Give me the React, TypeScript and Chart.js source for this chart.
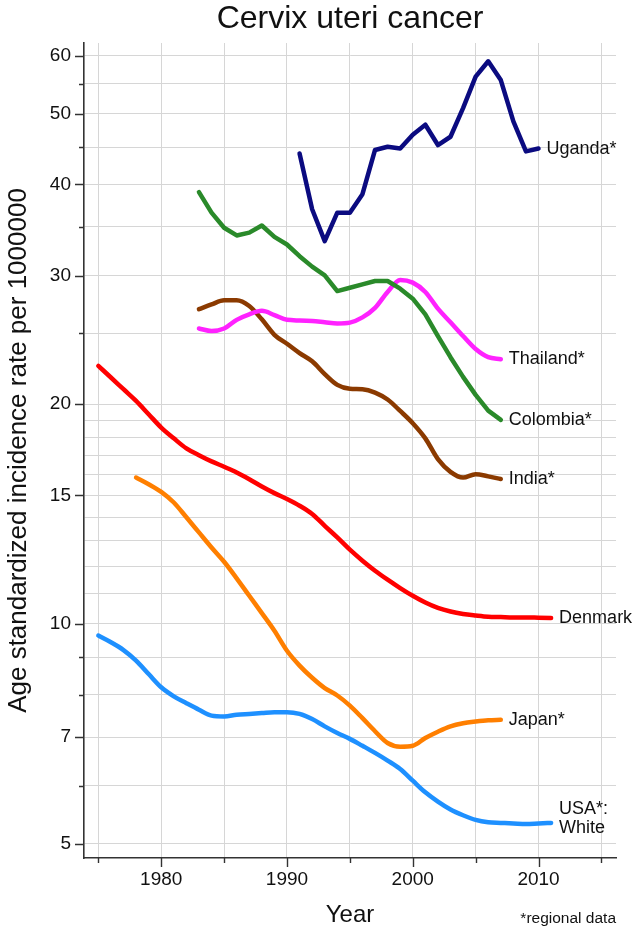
import React, { useEffect, useRef } from 'react';
import { Chart, registerables } from 'chart.js';

Chart.register(...registerables);

const TITLE = 'Cervix uteri cancer';
const X_TITLE = 'Year';
const Y_TITLE = 'Age standardized incidence rate per 1000000';
const FOOTNOTE = '*regional data';

const seriesNames = ['Uganda*', 'Colombia*', 'Thailand*', 'India*', 'Denmark', 'Japan*', 'USA*:\nWhite'];
const seriesColors = ['#0b0b80', '#2a8a2a', '#ff22ff', '#8b3a00', '#ff0000', '#ff7f00', '#1e90ff'];
const seriesStartYears = [1991, 1983, 1983, 1983, 1975, 1978, 1975];
const seriesSmooth = [false, false, true, true, true, true, true];

const uganda = [44.1, 37.0, 33.45, 36.6, 36.6, 38.8, 44.6, 45.05, 44.8, 46.8, 48.3, 45.3, 46.5, 50.9, 56.2, 59.0, 55.6, 48.8, 44.4, 44.8];
const colombia = [39.05, 36.6, 34.9, 34.06, 34.36, 35.15, 33.9, 33.1, 31.9, 30.87, 30.03, 28.58, 28.88, 29.19, 29.5, 29.5, 28.8, 27.9, 26.56, 24.8, 23.2, 21.8, 20.6, 19.6, 19.04];
const thailand = [25.4, 25.2, 25.4, 26.1, 26.56, 26.85, 26.5, 26.1, 26.05, 26.0, 25.9, 25.8, 25.87, 26.3, 27.1, 28.5, 29.6, 29.35, 28.5, 27.04, 25.9, 24.8, 23.8, 23.2, 23.05];
const india = [27.0, 27.4, 27.76, 27.76, 27.26, 26.14, 24.9, 24.2, 23.5, 22.9, 22.0, 21.26, 21.0, 20.97, 20.75, 20.3, 19.58, 18.84, 17.96, 16.82, 16.16, 15.87, 16.04, 15.93, 15.8];
const denmark = [22.57, 21.76, 20.97, 20.21, 19.38, 18.58, 17.96, 17.4, 17.03, 16.7, 16.42, 16.13, 15.79, 15.43, 15.11, 14.83, 14.52, 14.15, 13.63, 13.14, 12.64, 12.21, 11.83, 11.5, 11.2, 10.93, 10.7, 10.52, 10.4, 10.32, 10.27, 10.23, 10.22, 10.21, 10.21, 10.2, 10.19];
const japan = [15.87, 15.54, 15.17, 14.67, 14.0, 13.35, 12.73, 12.17, 11.55, 10.93, 10.35, 9.79, 9.19, 8.77, 8.44, 8.17, 7.98, 7.73, 7.43, 7.13, 6.87, 6.79, 6.81, 6.98, 7.12, 7.24, 7.31, 7.35, 7.38, 7.39];
const usaWhite = [9.64, 9.44, 9.21, 8.91, 8.54, 8.19, 7.96, 7.79, 7.63, 7.49, 7.47, 7.51, 7.53, 7.55, 7.57, 7.57, 7.53, 7.41, 7.24, 7.09, 6.96, 6.81, 6.66, 6.5, 6.33, 6.1, 5.88, 5.71, 5.57, 5.47, 5.39, 5.35, 5.34, 5.33, 5.32, 5.33, 5.34];
const seriesValues = [uganda, colombia, thailand, india, denmark, japan, usaWhite];

const xTickValues = [1975, 1980, 1985, 1990, 1995, 2000, 2005, 2010, 2015];
const xLabelValues = [1980, 1990, 2000, 2010];
const yGridValues = [5, 6, 7, 8, 9, 10, 11, 12, 13, 14, 15, 16, 17, 18, 19, 20, 25, 30, 35, 40, 45, 50, 55, 60];
const yLabelValues = [5, 7, 10, 15, 20, 30, 40, 50, 60];
const yMinorTickValues = [6, 8, 9, 25, 35, 45, 55];

const FONT = '"Liberation Sans", Arial, Helvetica, sans-serif';
const TEXT = '#111111';
const AXIS = '#333333';

const overlayPlugin = {
  id: 'overlay',
  afterDraw(chart: any) {
    const { ctx, chartArea } = chart;
    const xs = chart.scales.x;
    const ys = chart.scales.y;
    ctx.save();
    // tick marks
    ctx.strokeStyle = AXIS;
    ctx.lineWidth = 1.4;
    ctx.beginPath();
    yLabelValues.forEach((v) => {
      const y = Math.round(ys.getPixelForValue(v)) + 0.5;
      ctx.moveTo(chartArea.left - 9, y);
      ctx.lineTo(chartArea.left, y);
    });
    yMinorTickValues.forEach((v) => {
      const y = Math.round(ys.getPixelForValue(v)) + 0.5;
      ctx.moveTo(chartArea.left - 5, y);
      ctx.lineTo(chartArea.left, y);
    });
    xTickValues.forEach((v) => {
      const x = Math.round(xs.getPixelForValue(v)) + 0.5;
      const len = xLabelValues.includes(v) ? 9 : 5;
      ctx.moveTo(x, chartArea.bottom);
      ctx.lineTo(x, chartArea.bottom + len);
    });
    ctx.stroke();

    // series labels
    ctx.font = '18px ' + FONT;
    ctx.fillStyle = TEXT;
    ctx.textAlign = 'left';
    ctx.textBaseline = 'middle';
    chart.data.datasets.forEach((ds: any) => {
      const last = ds.data[ds.data.length - 1];
      const px = xs.getPixelForValue(last.x) + 8;
      const py = ys.getPixelForValue(last.y);
      const lines = String(ds.label).split('\n');
      const lh = 19;
      const y0 = py - ((lines.length - 1) * lh) / 2 - (lines.length > 1 ? 4 : 0);
      lines.forEach((t: string, i: number) => ctx.fillText(t, px, y0 + i * lh));
    });

    // title
    ctx.font = '32px ' + FONT;
    ctx.textAlign = 'center';
    ctx.textBaseline = 'alphabetic';
    ctx.fillText(TITLE, (chartArea.left + chartArea.right) / 2, 28);

    // footnote
    ctx.font = '15.5px ' + FONT;
    ctx.textAlign = 'right';
    ctx.fillText(FOOTNOTE, chartArea.right, 923);
    ctx.restore();
  },
};

export default function App() {
  const ref = useRef<HTMLCanvasElement>(null);
  useEffect(() => {
    document.body.style.margin = '0';
    const datasets = seriesNames.map((name, i) => ({
      label: name,
      data: seriesValues[i].map((v, j) => ({ x: seriesStartYears[i] + j, y: v })),
      borderColor: seriesColors[i],
      backgroundColor: seriesColors[i],
      borderWidth: 4.5,
      pointRadius: 0,
      pointHoverRadius: 0,
      fill: false,
      tension: 0,
      cubicInterpolationMode: seriesSmooth[i] ? 'monotone' : 'default',
      borderCapStyle: 'round',
      borderJoinStyle: 'round',
    }));
    const chart = new Chart(ref.current as HTMLCanvasElement, {
      type: 'line',
      data: { datasets } as any,
      plugins: [overlayPlugin],
      options: {
        animation: false,
        responsive: false,
        devicePixelRatio: 1,
        events: [],
        layout: { padding: { top: 43, right: 18, left: 0, bottom: 0 } },
        plugins: {
          legend: { display: false },
          tooltip: { enabled: false },
          title: { display: false },
        },
        scales: {
          x: {
            type: 'linear',
            min: 1973.86,
            max: 2016.16,
            afterBuildTicks: (scale: any) => {
              scale.ticks = xTickValues.map((v) => ({ value: v }));
            },
            afterFit: (scale: any) => {
              scale.height = 72;
            },
            ticks: {
              autoSkip: false,
              maxRotation: 0,
              padding: 10,
              color: TEXT,
              font: { family: FONT, size: 19 },
              callback: (v: any) => (xLabelValues.includes(Number(v)) ? String(v) : ''),
            },
            grid: { color: '#d6d6d6', lineWidth: 1, drawTicks: false },
            border: { display: true, color: AXIS, width: 1.6 },
            title: {
              display: true,
              text: X_TITLE,
              color: TEXT,
              font: { family: FONT, size: 24 },
              padding: { top: 0, bottom: 0 },
            },
          },
          y: {
            type: 'logarithmic',
            min: 4.78,
            max: 62.5,
            afterBuildTicks: (scale: any) => {
              scale.ticks = yGridValues.map((v) => ({ value: v }));
            },
            afterFit: (scale: any) => {
              scale.width = 84;
            },
            ticks: {
              autoSkip: false,
              padding: 13,
              color: TEXT,
              font: { family: FONT, size: 19 },
              callback: (v: any) => (yLabelValues.includes(Number(v)) ? String(v) : ''),
            },
            grid: { color: '#d6d6d6', lineWidth: 1, drawTicks: false },
            border: { display: true, color: AXIS, width: 1.6 },
            title: {
              display: true,
              text: Y_TITLE,
              color: TEXT,
              font: { family: FONT, size: 26 },
              padding: { top: 3, bottom: 0 },
            },
          },
        },
      } as any,
    });
    return () => chart.destroy();
  }, []);
  return (
    <div style={{ position: 'relative', width: 634, height: 930 }}>
      <canvas ref={ref} width={634} height={930} style={{ display: 'block', width: 634, height: 930 }} />
    </div>
  );
}
